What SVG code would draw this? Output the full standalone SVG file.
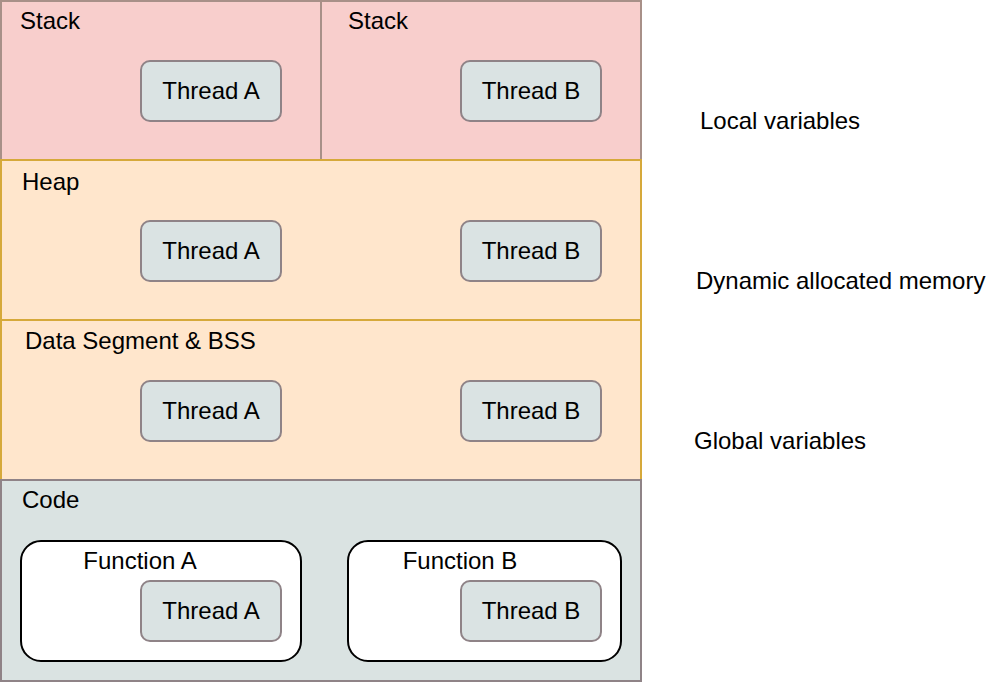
<svg xmlns="http://www.w3.org/2000/svg" width="1004" height="684" viewBox="0 0 1004 684">
<style>
text{font-family:"Liberation Sans",Arial,sans-serif;font-size:24px;fill:#000}
.thr{fill:#dae3e3;stroke:#8f8387;stroke-width:2}
.fn{fill:#ffffff;stroke:#000;stroke-width:2}
.mid{text-anchor:middle;dominant-baseline:central}
.lab{dominant-baseline:central}
</style>
<rect width="1004" height="684" fill="#ffffff"/>
<g id="stack-a">
<rect x="1" y="1" width="320" height="159" fill="#f8cecc" stroke="#a89088" stroke-width="2"/>
<text class="lab" x="20" y="20">Stack</text>
<rect class="thr" x="141" y="61" width="140" height="60" rx="9"/>
<text class="mid" x="211" y="90">Thread A</text>
</g>
<g id="stack-b">
<rect x="321" y="1" width="320" height="159" fill="#f8cecc" stroke="#a89088" stroke-width="2"/>
<text class="lab" x="348" y="20">Stack</text>
<rect class="thr" x="461" y="61" width="140" height="60" rx="9"/>
<text class="mid" x="531" y="90">Thread B</text>
</g>
<g id="heap">
<rect x="1" y="160" width="640" height="160" fill="#ffe6cc" stroke="#d6a93a" stroke-width="2"/>
<text class="lab" x="22" y="181">Heap</text>
<rect class="thr" x="141" y="221" width="140" height="60" rx="9"/>
<text class="mid" x="211" y="250">Thread A</text>
<rect class="thr" x="461" y="221" width="140" height="60" rx="9"/>
<text class="mid" x="531" y="250">Thread B</text>
</g>
<g id="data">
<rect x="1" y="320" width="640" height="160" fill="#ffe6cc" stroke="#d6a93a" stroke-width="2"/>
<text class="lab" x="25" y="340">Data Segment &amp; BSS</text>
<rect class="thr" x="141" y="381" width="140" height="60" rx="9"/>
<text class="mid" x="211" y="410">Thread A</text>
<rect class="thr" x="461" y="381" width="140" height="60" rx="9"/>
<text class="mid" x="531" y="410">Thread B</text>
</g>
<g id="code">
<rect x="1" y="480" width="640" height="201" fill="#dae3e2" stroke="#8f8387" stroke-width="2"/>
<text class="lab" x="22" y="499">Code</text>
</g>
<g id="function-a">
<rect class="fn" x="21" y="541" width="280" height="120" rx="20"/>
<text class="mid" x="140" y="560">Function A</text>
<rect class="thr" x="141" y="581" width="140" height="60" rx="9"/>
<text class="mid" x="211" y="610">Thread A</text>
</g>
<g id="function-b">
<rect class="fn" x="348" y="541" width="273" height="120" rx="20"/>
<text class="mid" x="460" y="560">Function B</text>
<rect class="thr" x="461" y="581" width="140" height="60" rx="9"/>
<text class="mid" x="531" y="610">Thread B</text>
</g>
<g id="labels">
<text class="lab" x="700" y="120">Local variables</text>
<text class="lab" x="696" y="280">Dynamic allocated memory</text>
<text class="lab" x="694" y="440">Global variables</text>
</g>
<g id="connectors"></g>
</svg>
